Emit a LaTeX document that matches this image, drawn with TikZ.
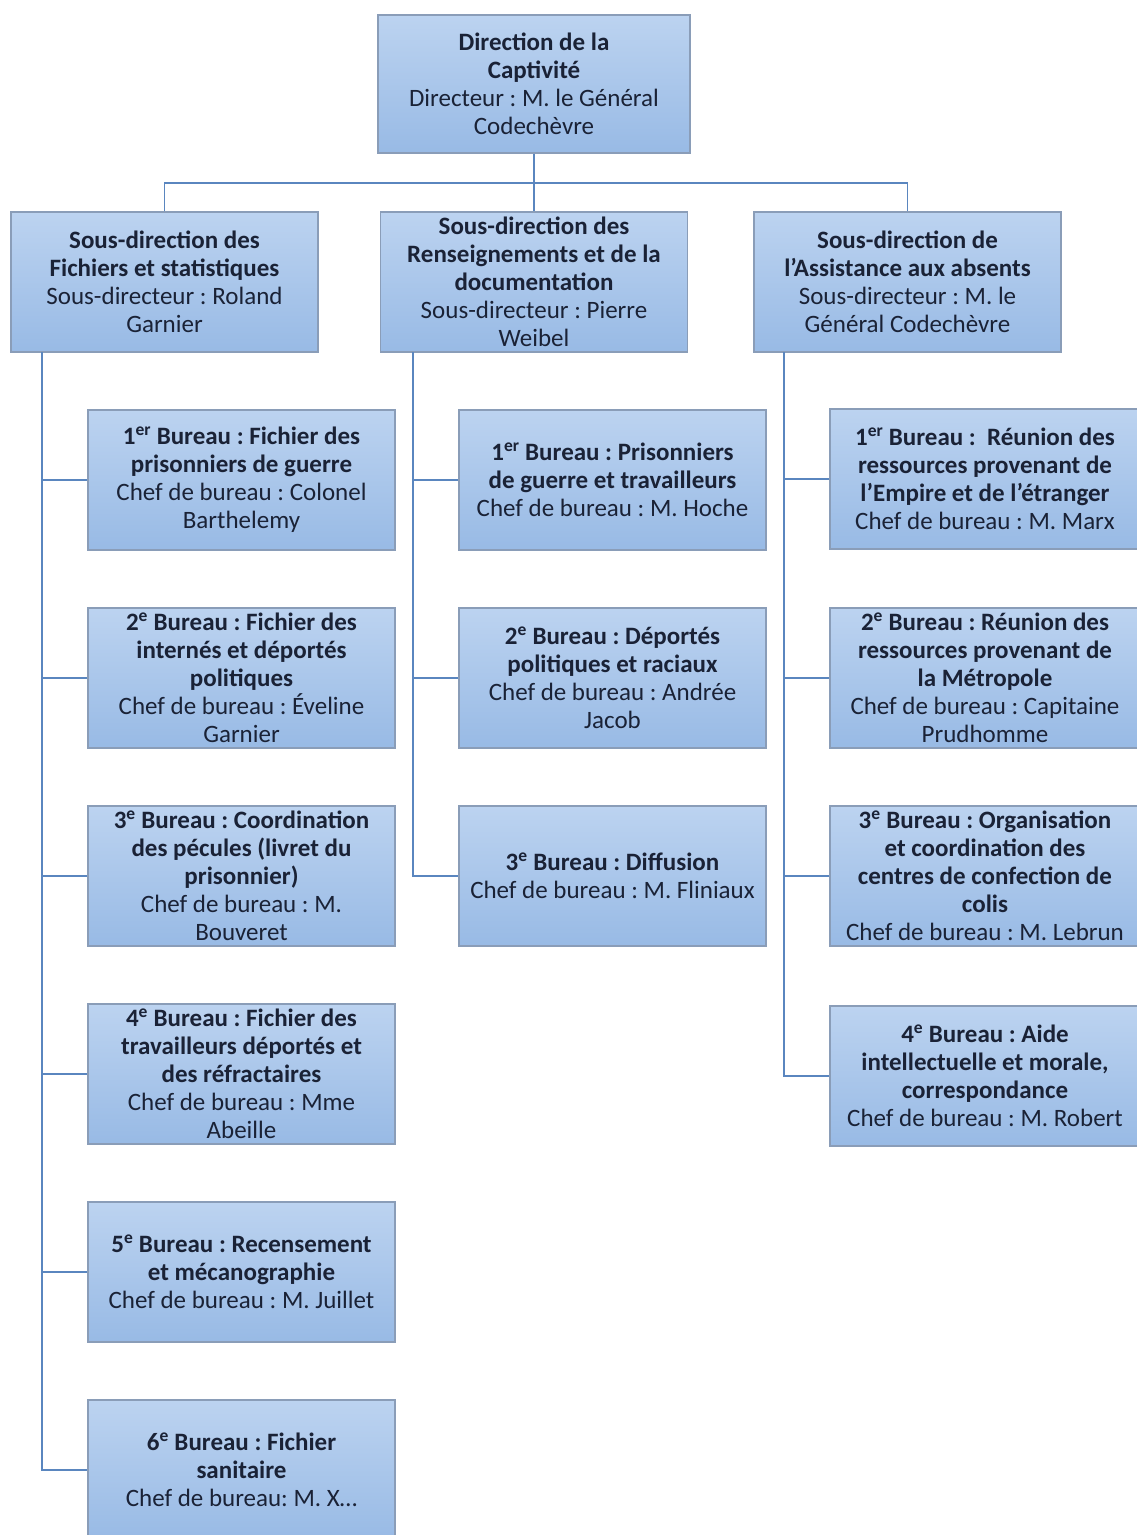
\documentclass[tikz,border=0pt]{standalone}
\usepackage{fontspec}
\setmainfont{Carlito}
\frenchspacing
\definecolor{boxtop}{HTML}{BCD3F0}
\definecolor{boxbot}{HTML}{98BAE5}
\definecolor{boxline}{HTML}{8A9DB8}
\definecolor{conn}{HTML}{5A86BF}
\definecolor{txt}{HTML}{1A2236}
\newcommand\supx[1]{\textsuperscript{#1}}
\tikzset{
  orgbox/.style={rectangle, draw=boxline, line width=1.3pt, top color=boxtop, bottom color=boxbot,
    minimum width=307pt, minimum height=140pt, inner sep=0pt, align=center,
    text=txt, font=\fontsize{25}{28}\selectfont},
  link/.style={draw=conn, line width=1.6pt}
}
\begin{document}
\begin{tikzpicture}[x=1pt,y=-1pt]
\useasboundingbox (0,0) rectangle (1137,1535);
\clip (0,0) rectangle (1137,1535);
% top
\node[orgbox, minimum width=312pt, minimum height=138pt] (dir) at (534,84)
  {\textbf{Direction de la}\\\textbf{Captivité}\\Directeur : M. le Général\\Codechèvre};
% sub-directions
\node[orgbox] (sd1) at (164.5,282)
  {\textbf{Sous-direction des}\\\textbf{Fichiers et statistiques}\\Sous-directeur : Roland\\Garnier};
\node[orgbox] (sd2) at (534,282)
  {\textbf{Sous-direction des}\\\textbf{Renseignements et de la}\\\textbf{documentation}\\Sous-directeur : Pierre\\Weibel};
\node[orgbox] (sd3) at (907.5,282)
  {\textbf{Sous-direction de}\\\textbf{l’Assistance aux absents}\\Sous-directeur : M. le\\Général Codechèvre};
% left column
\node[orgbox] (L1) at (241.5,480)
  {\textbf{1\supx{er} Bureau : Fichier des}\\\textbf{prisonniers de guerre}\\Chef de bureau : Colonel\\Barthelemy};
\node[orgbox] (L2) at (241.5,678)
  {\textbf{2\supx{e} Bureau : Fichier des}\\\textbf{internés et déportés}\\\textbf{politiques}\\Chef de bureau : Éveline\\Garnier};
\node[orgbox] (L3) at (241.5,876)
  {\textbf{3\supx{e} Bureau : Coordination}\\\textbf{des pécules (livret du}\\\textbf{prisonnier)}\\Chef de bureau : M.\\Bouveret};
\node[orgbox] (L4) at (241.5,1074)
  {\textbf{4\supx{e} Bureau : Fichier des}\\\textbf{travailleurs déportés et}\\\textbf{des réfractaires}\\Chef de bureau : Mme\\Abeille};
\node[orgbox] (L5) at (241.5,1272)
  {\textbf{5\supx{e} Bureau : Recensement}\\\textbf{et mécanographie}\\Chef de bureau : M. Juillet};
\node[orgbox] (L6) at (241.5,1470)
  {\textbf{6\supx{e} Bureau : Fichier}\\\textbf{sanitaire}\\Chef de bureau: M. X…};
% middle column
\node[orgbox] (M1) at (612.5,480)
  {\textbf{1\supx{er} Bureau : Prisonniers}\\\textbf{de guerre et travailleurs}\\Chef de bureau : M. Hoche};
\node[orgbox] (M2) at (612.5,678)
  {\textbf{2\supx{e} Bureau : Déportés}\\\textbf{politiques et raciaux}\\Chef de bureau : Andrée\\Jacob};
\node[orgbox] (M3) at (612.5,876)
  {\textbf{3\supx{e} Bureau : Diffusion}\\Chef de bureau : M. Fliniaux};
% right column
\node[orgbox, minimum width=310pt] (R1) at (985,479)
  {\textbf{1\supx{er} Bureau :\ \ Réunion des}\\\textbf{ressources provenant de}\\\textbf{l’Empire et de l’étranger}\\Chef de bureau : M. Marx};
\node[orgbox, minimum width=310pt] (R2) at (985,678)
  {\textbf{2\supx{e} Bureau : Réunion des}\\\textbf{ressources provenant de}\\\textbf{la Métropole}\\Chef de bureau : Capitaine\\Prudhomme};
\node[orgbox, minimum width=310pt] (R3) at (985,876)
  {\textbf{3\supx{e} Bureau : Organisation}\\\textbf{et coordination des}\\\textbf{centres de confection de}\\\textbf{colis}\\Chef de bureau : M. Lebrun};
\node[orgbox, minimum width=310pt] (R4) at (985,1076)
  {\textbf{4\supx{e} Bureau : Aide}\\\textbf{intellectuelle et morale,}\\\textbf{correspondance}\\Chef de bureau : M. Robert};
% connectors
\coordinate (hbus) at (534,183);
\coordinate (lx) at (42,352);
\coordinate (mx) at (413,352);
\coordinate (rx) at (784,352);
\draw[link] (dir.south) -- (sd2.north);
\draw[link] (sd1.north) |- (hbus) -| (sd3.north);
\draw[link] (lx) |- (L6.west);
\foreach \n in {L1,L2,L3,L4,L5} \draw[link] (\n.west) -- (\n.west -| lx);
\draw[link] (mx) |- (M3.west);
\foreach \n in {M1,M2} \draw[link] (\n.west) -- (\n.west -| mx);
\draw[link] (rx) |- (R4.west);
\foreach \n in {R1,R2,R3} \draw[link] (\n.west) -- (\n.west -| rx);
\end{tikzpicture}
\end{document}
